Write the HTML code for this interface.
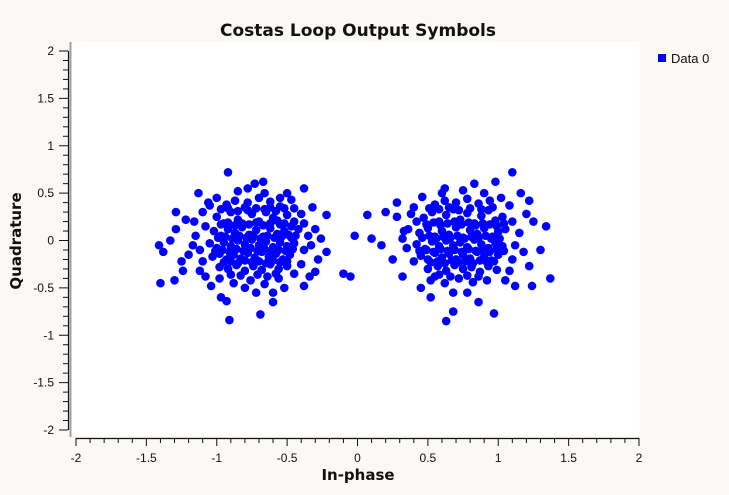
<!DOCTYPE html>
<html><head><meta charset="utf-8"><style>
html,body{margin:0;padding:0;background:#fbf8f5;}
svg{display:block;font-family:"Liberation Sans","DejaVu Sans",sans-serif;}
</style></head><body>
<svg id="chart" width="729" height="495">
<rect x="0" y="0" width="729" height="495" fill="#fbf8f5"/>
<rect x="71" y="42" width="569" height="394" fill="#ffffff"/>
<line x1="70.5" y1="42" x2="70.5" y2="437" stroke="#a0a0a0" stroke-width="2"/>
<text x="358" y="36" text-anchor="middle" font-size="17" font-weight="bold" fill="#111" font-family="DejaVu Sans, sans-serif">Costas Loop Output Symbols</text>
<text x="358" y="480" text-anchor="middle" font-size="15" font-weight="bold" fill="#111" font-family="DejaVu Sans, sans-serif">In-phase</text>
<text transform="translate(21,241) rotate(-90)" text-anchor="middle" font-size="15" font-weight="bold" fill="#111" font-family="DejaVu Sans, sans-serif">Quadrature</text>
<g id="axes"></g>
<g id="marks"></g>
<rect x="658" y="54" width="8" height="8" fill="#0000ff"/>
<text x="671" y="63" font-size="13" fill="#111">Data 0</text>
</svg>
<script>
const xTicks = [-2,-1.5,-1,-0.5,0,0.5,1,1.5,2];
const yTicks = [-2,-1.5,-1,-0.5,0,0.5,1,1.5,2];
const cluster1 = [
[-1.0,0.25],[-0.95,0.18],[-0.9,0.3],[-0.85,0.22],[-0.8,0.35],[-0.75,0.28],[-0.7,0.2],[-0.65,0.3],[-0.6,0.24],[-0.55,0.17],[-0.5,0.27],[-0.45,0.2],
[-1.02,0.1],[-0.97,0.05],[-0.92,0.12],[-0.87,0.08],[-0.82,0.14],[-0.77,0.06],[-0.72,0.11],[-0.67,0.04],[-0.62,0.13],[-0.57,0.07],[-0.52,0.1],[-0.47,0.03],[-0.42,0.12],
[-1.05,-0.03],[-1.0,-0.08],[-0.95,-0.02],[-0.9,-0.06],[-0.85,0.0],[-0.8,-0.04],[-0.75,0.01],[-0.7,-0.05],[-0.65,-0.01],[-0.6,-0.07],[-0.55,-0.02],[-0.5,-0.06],[-0.45,-0.03],
[-1.03,-0.17],[-0.98,-0.14],[-0.93,-0.2],[-0.88,-0.15],[-0.83,-0.19],[-0.78,-0.13],[-0.73,-0.18],[-0.68,-0.12],[-0.63,-0.17],[-0.58,-0.14],[-0.53,-0.2],[-0.48,-0.15],
[-0.98,-0.28],[-0.92,-0.3],[-0.86,-0.26],[-0.8,-0.32],[-0.74,-0.27],[-0.68,-0.31],[-0.62,-0.25],[-0.56,-0.3],[-0.5,-0.27],
[-0.93,0.38],[-0.87,0.42],[-0.78,0.4],[-0.7,0.45],[-0.62,0.41],[-0.55,0.36],
[-0.97,0.17],[-0.92,0.19],[-0.87,0.16],[-0.82,0.18],[-0.77,0.17],[-0.72,0.19],[-0.67,0.16],[-0.62,0.18],[-0.57,0.21],[-0.52,0.18],[-0.47,0.15],
[-0.99,0.03],[-0.94,0.04],[-0.89,0.02],[-0.84,0.05],[-0.79,0.03],[-0.74,0.06],[-0.69,0.02],[-0.64,0.05],[-0.59,0.03],[-0.54,0.04],[-0.49,0.06],[-0.44,0.05],
[-1.01,-0.11],[-0.96,-0.1],[-0.91,-0.12],[-0.86,-0.09],[-0.81,-0.11],[-0.76,-0.08],[-0.71,-0.11],[-0.66,-0.09],[-0.61,-0.12],[-0.56,-0.1],[-0.51,-0.11],[-0.46,-0.09],
[-0.95,-0.23],[-0.9,-0.22],[-0.85,-0.24],[-0.8,-0.21],[-0.75,-0.23],[-0.7,-0.22],[-0.65,-0.24],[-0.6,-0.21],[-0.55,-0.23],[-0.5,-0.22],
[-0.97,0.33],[-0.92,0.34],[-0.85,0.31],[-0.78,0.32],[-0.72,0.34],[-0.66,0.33],[-0.58,0.31],[-0.52,0.34],
[-0.9,-0.36],[-0.83,-0.37],[-0.71,-0.36],[-0.64,-0.38],[-0.58,-0.35],
[-1.1,0.3],[-1.08,0.15],[-1.12,-0.1],[-1.1,-0.22],[-1.15,0.05],[-1.2,-0.15],[-0.4,0.28],[-0.38,-0.1],[-0.35,0.05],[-0.4,-0.25],[-0.45,-0.35],[-0.3,0.12],[-0.28,-0.2],
[-0.98,-0.4],[-0.88,-0.45],[-0.76,-0.42],[-0.66,-0.46],[-0.56,-0.4],[-0.52,-0.5],[-0.85,0.52],[-0.78,0.55],[-0.66,0.5],[-1.0,0.45],[-1.06,0.4],
[-0.92,0.72],[-1.13,0.5],[-0.73,0.6],[-0.67,0.62],[-0.5,0.5],[-0.38,0.55],[-1.29,0.3],[-1.29,0.12],[-1.41,-0.05],[-1.38,-0.12],[-1.24,-0.32],[-1.3,-0.42],
[-1.4,-0.45],[-1.12,-0.32],[-1.04,-0.48],[-0.97,-0.6],[-0.93,-0.64],[-0.91,-0.84],[-0.6,-0.65],[-0.8,-0.5],[-0.69,-0.78],[-0.38,-0.48],[-0.34,-0.38],
[-0.3,-0.33],[-0.22,-0.12],[-0.1,-0.35],[-0.05,-0.38],[-0.22,0.27],[-0.38,0.18],[-0.32,0.35],[-0.45,0.34],[-0.55,0.45],[-0.62,0.35],[-1.05,0.37],
[-1.16,0.2],[-1.22,0.22],[-1.17,-0.05],[-1.33,0.0],[-1.25,-0.22],[-0.33,-0.05],[-0.26,0.02],[-1.08,-0.38],[-0.72,-0.55],[-0.47,0.43],[-0.6,-0.55]
];
const cluster2 = [
[0.47,0.24],[0.53,0.3],[0.58,0.2],[0.63,0.27],[0.68,0.33],[0.73,0.22],[0.78,0.29],[0.83,0.18],[0.88,0.26],[0.93,0.32],[0.98,0.21],[1.03,0.25],
[0.44,0.08],[0.5,0.13],[0.55,0.04],[0.6,0.1],[0.65,0.06],[0.7,0.14],[0.75,0.03],[0.8,0.11],[0.85,0.07],[0.9,0.13],[0.95,0.02],[1.0,0.09],[1.05,0.12],
[0.42,-0.04],[0.48,-0.09],[0.53,-0.01],[0.58,-0.06],[0.63,0.0],[0.68,-0.05],[0.73,-0.02],[0.78,-0.07],[0.83,0.01],[0.88,-0.04],[0.93,-0.08],[0.98,-0.03],[1.03,-0.06],
[0.45,-0.16],[0.5,-0.2],[0.55,-0.13],[0.6,-0.18],[0.65,-0.14],[0.7,-0.2],[0.75,-0.15],[0.8,-0.19],[0.85,-0.12],[0.9,-0.17],[0.95,-0.21],[1.0,-0.15],
[0.5,-0.3],[0.57,-0.27],[0.63,-0.32],[0.69,-0.26],[0.75,-0.3],[0.81,-0.28],[0.87,-0.33],[0.93,-0.27],[0.99,-0.31],
[0.55,0.38],[0.62,0.42],[0.7,0.4],[0.78,0.44],[0.86,0.39],[0.94,0.42],
[0.49,0.17],[0.54,0.19],[0.59,0.16],[0.64,0.18],[0.69,0.2],[0.74,0.17],[0.79,0.19],[0.84,0.16],[0.89,0.18],[0.94,0.17],[0.99,0.15],[1.04,0.18],
[0.46,0.03],[0.51,0.05],[0.56,0.02],[0.61,0.04],[0.66,0.03],[0.71,0.05],[0.76,0.02],[0.81,0.04],[0.86,0.03],[0.91,0.05],[0.96,0.04],[1.01,0.02],
[0.44,-0.11],[0.49,-0.1],[0.54,-0.12],[0.59,-0.09],[0.64,-0.11],[0.69,-0.1],[0.74,-0.12],[0.79,-0.09],[0.84,-0.11],[0.89,-0.1],[0.94,-0.12],[0.99,-0.09],[1.04,-0.11],
[0.52,-0.23],[0.57,-0.22],[0.62,-0.24],[0.67,-0.21],[0.72,-0.23],[0.77,-0.22],[0.82,-0.24],[0.87,-0.21],[0.92,-0.23],[0.97,-0.22],
[0.51,0.34],[0.58,0.33],[0.65,0.35],[0.72,0.32],[0.8,0.34],[0.88,0.33],[0.96,0.35],
[0.58,-0.36],[0.66,-0.38],[0.78,-0.37],[0.86,-0.38],
[0.38,0.28],[0.36,0.12],[0.35,-0.08],[0.4,-0.22],[0.32,0.02],[1.1,0.2],[1.12,-0.05],[1.15,0.08],[1.1,-0.2],[1.08,-0.32],[1.18,-0.12],[1.2,0.28],
[0.52,-0.42],[0.62,-0.45],[0.72,-0.4],[0.82,-0.44],[0.92,-0.42],[0.68,-0.55],[0.6,0.5],[0.75,0.53],[0.9,0.5],[1.02,0.45],
[0.98,0.62],[0.62,0.55],[0.83,0.6],[1.1,0.72],[1.22,0.42],[1.25,0.2],[1.34,0.15],[1.37,-0.4],[1.22,-0.27],[1.24,-0.48],[0.63,-0.85],[0.68,-0.75],
[0.97,-0.77],[0.86,-0.65],[0.45,-0.5],[0.52,-0.6],[0.32,-0.38],[0.17,-0.05],[0.28,0.25],[0.28,0.4],[0.42,0.2],[0.4,0.35],[1.08,0.37],[1.12,-0.48],
[0.78,-0.55],[0.55,-0.38],[0.33,0.1],[0.1,0.02],[0.07,0.27],[0.2,0.3],[-0.02,0.05],[1.3,-0.1],[0.25,-0.2],[1.05,-0.42],[0.46,0.46],[1.16,0.5]
];
const x0 = 76, x1 = 639, y0 = 430, y1 = 51;
const xMin = -2, xMax = 2, yMin = -2, yMax = 2;
function sx(v){ return x0 + (v - xMin) / (xMax - xMin) * (x1 - x0); }
function sy(v){ return y0 - (v - yMin) / (yMax - yMin) * (y0 - y1); }
const NS = "http://www.w3.org/2000/svg";
const axes = document.getElementById('axes');
const marks = document.getElementById('marks');
function mk(tag, attrs, parent){
  const e = document.createElementNS(NS, tag);
  for (const k in attrs) e.setAttribute(k, attrs[k]);
  parent.appendChild(e);
  return e;
}
let xl = mk('line', {x1: sx(xMin), x2: sx(xMax), y1: 438.5, y2: 438.5, stroke: '#111', 'stroke-width': 1.2}, axes);


for (let i = 0; i <= 40; i++) {
  const v = xMin + i * 0.1;
  const major = i % 5 === 0;
  const t = mk('line', {x1: sx(v), x2: sx(v), y1: 438, y2: major ? 446 : 443, stroke: '#111', 'stroke-width': 1}, axes);
  
  
}
xTicks.forEach(v => {
  const t = mk('text', {x: sx(v), y: 462, 'text-anchor': 'middle', 'font-size': 12, fill: '#111'}, axes);
  t.textContent = String(v);
  
  
});
let yl = mk('line', {x1: 68.5, x2: 68.5, y1: sy(yMin), y2: sy(yMax), stroke: '#111', 'stroke-width': 1.2}, axes);


for (let i = 0; i <= 40; i++) {
  const v = yMin + i * 0.1;
  const major = i % 5 === 0;
  const t = mk('line', {x1: major ? 59 : 63, x2: 68, y1: sy(v), y2: sy(v), stroke: '#111', 'stroke-width': 1}, axes);
  
  
}
yTicks.forEach(v => {
  const t = mk('text', {x: 54, y: sy(v) + 4, 'text-anchor': 'end', 'font-size': 12, fill: '#111'}, axes);
  t.textContent = String(v);
  
  
});
[cluster1, cluster2].forEach(arr => arr.forEach(p => {
  const c = mk('circle', {cx: sx(p[0]), cy: sy(p[1]), r: 4.3, fill: '#0000ff'}, marks);
  
  
}));
</script>
</body></html>
